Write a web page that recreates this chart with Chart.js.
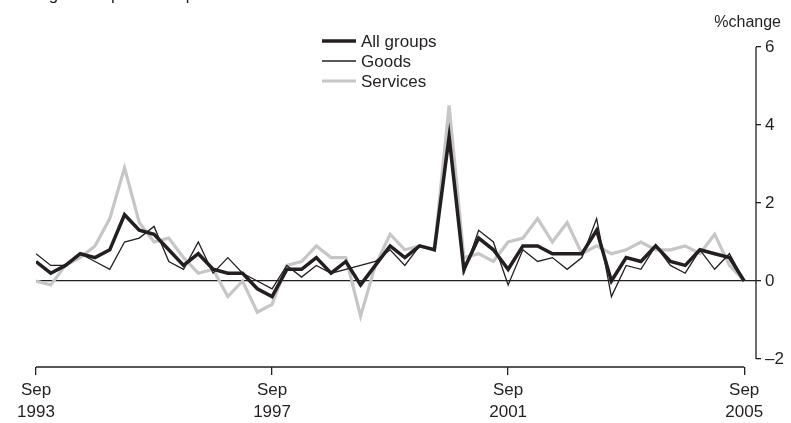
<!DOCTYPE html>
<html>
<head>
<meta charset="utf-8">
<script src="https://cdn.jsdelivr.net/npm/chart.js@4"></script>
<style>
  html, body { margin: 0; padding: 0; background: #fff; }
  #wrap { width: 791px; height: 423px; position: relative; }
</style>
</head>
<body>
<div id="wrap"><canvas id="chart"></canvas></div>
<script>
// quarters, Sep 1993 .. Sep 2005
const quarters = [
  "Sep 1993","Dec 1993","Mar 1994","Jun 1994","Sep 1994","Dec 1994","Mar 1995","Jun 1995",
  "Sep 1995","Dec 1995","Mar 1996","Jun 1996","Sep 1996","Dec 1996","Mar 1997","Jun 1997",
  "Sep 1997","Dec 1997","Mar 1998","Jun 1998","Sep 1998","Dec 1998","Mar 1999","Jun 1999",
  "Sep 1999","Dec 1999","Mar 2000","Jun 2000","Sep 2000","Dec 2000","Mar 2001","Jun 2001",
  "Sep 2001","Dec 2001","Mar 2002","Jun 2002","Sep 2002","Dec 2002","Mar 2003","Jun 2003",
  "Sep 2003","Dec 2003","Mar 2004","Jun 2004","Sep 2004","Dec 2004","Mar 2005","Jun 2005",
  "Sep 2005"
];

const allGroups = [
  0.5, 0.2, 0.4, 0.7, 0.6, 0.8, 1.7, 1.3, 1.2, 0.8, 0.4, 0.7, 0.3, 0.2, 0.2, -0.2,
  -0.4, 0.3, 0.3, 0.6, 0.2, 0.5, -0.1, 0.4, 0.9, 0.6, 0.9, 0.8, 3.7, 0.3, 1.1, 0.8,
  0.3, 0.9, 0.9, 0.7, 0.7, 0.7, 1.3, 0.0, 0.6, 0.5, 0.9, 0.5, 0.4, 0.8, 0.7, 0.6,
  0.0
];
const goods = [
  0.7, 0.4, 0.4, 0.7, 0.5, 0.3, 1.0, 1.1, 1.4, 0.5, 0.3, 1.0, 0.2, 0.6, 0.2, 0.0,
  -0.2, 0.4, 0.1, 0.4, 0.2, 0.3, 0.4, 0.5, 0.8, 0.4, 0.9, 0.8, 3.6, 0.2, 1.3, 1.0,
  -0.1, 0.8, 0.5, 0.6, 0.3, 0.6, 1.6, -0.4, 0.4, 0.3, 0.9, 0.4, 0.2, 0.8, 0.3, 0.7,
  0.0
];
const services = [
  0.0, -0.1, 0.4, 0.6, 0.9, 1.6, 2.9, 1.5, 1.0, 1.1, 0.6, 0.2, 0.3, -0.4, 0.0, -0.8,
  -0.6, 0.4, 0.5, 0.9, 0.6, 0.6, -0.9, 0.4, 1.2, 0.8, 0.9, 0.8, 4.5, 0.6, 0.7, 0.5,
  1.0, 1.1, 1.6, 1.0, 1.5, 0.7, 0.9, 0.7, 0.8, 1.0, 0.8, 0.8, 0.9, 0.7, 1.2, 0.4,
  0.0
];

const xTickPos = [0, 16, 32, 48];
const yTicks = [-2, 0, 2, 4, 6];

const FONT = "'Liberation Sans', Arial, sans-serif";
const INK = "#231f20";

function pts(arr) {
  return arr.map((v, i) => ({ x: i, y: v }));
}

// axis lines, legend and header texts
const decor = {
  id: "decor",
  afterDraw(chart) {
    const { ctx, chartArea, scales } = chart;
    const x = scales.x, y = scales.y;
    ctx.save();
    ctx.strokeStyle = INK;
    ctx.lineWidth = 1.3;
    ctx.beginPath();
    ctx.moveTo(x.getPixelForValue(0), chartArea.bottom);
    ctx.lineTo(x.getPixelForValue(quarters.length - 1), chartArea.bottom);
    ctx.moveTo(chartArea.right, y.getPixelForValue(6));
    ctx.lineTo(chartArea.right, y.getPixelForValue(-2));
    ctx.stroke();

    // legend
    ctx.font = "17px " + FONT;
    ctx.textBaseline = "middle";
    ctx.fillStyle = INK;
    chart.data.datasets.forEach((ds, i) => {
      const ly = 41 + i * 20;
      ctx.strokeStyle = ds.borderColor;
      ctx.lineWidth = ds.borderWidth;
      ctx.beginPath();
      ctx.moveTo(322, ly);
      ctx.lineTo(356, ly);
      ctx.stroke();
      ctx.fillText(ds.label, 361, ly + 1);
    });

    // unit label and clipped heading
    ctx.font = "16px " + FONT;
    ctx.textBaseline = "alphabetic";
    ctx.textAlign = "right";
    ctx.fillText("%change", 781, 27);
    ctx.textAlign = "left";
    ctx.font = "17px " + FONT;
    ctx.fillText("Change from previous quarter", 8, 0);
    ctx.restore();
  }
};

new Chart(document.getElementById("chart"), {
  type: "line",
  data: {
    datasets: [
      { label: "All groups", data: pts(allGroups), borderColor: INK, borderWidth: 3.5 },
      { label: "Goods", data: pts(goods), borderColor: INK, borderWidth: 1.3 },
      { label: "Services", data: pts(services), borderColor: "#c6c6c6", borderWidth: 3.2 }
    ]
  },
  options: {
    responsive: true,
    maintainAspectRatio: false,
    animation: false,
    layout: { padding: { left: 36, top: 47, right: 0, bottom: 0 } },
    elements: { point: { radius: 0 }, line: { tension: 0 } },
    plugins: { legend: { display: false }, tooltip: { enabled: false } },
    scales: {
      x: {
        type: "linear",
        min: 0,
        max: 48.8,
        afterBuildTicks: s => { s.ticks = xTickPos.map(v => ({ value: v })); },
        afterFit: s => { s.height = 56; },
        border: { display: false },
        grid: { drawOnChartArea: false, tickLength: 8, color: INK, lineWidth: 1.3 },
        ticks: {
          autoSkip: false,
          maxRotation: 0,
          padding: 5,
          color: INK,
          font: { family: FONT, size: 17, lineHeight: 1.25 },
          callback: v => quarters[v].split(" ")
        }
      },
      y: {
        position: "right",
        min: -2.205,
        max: 6,
        afterBuildTicks: s => { s.ticks = yTicks.map(v => ({ value: v })); },
        afterFit: s => { s.width = 35; },
        border: { display: false },
        grid: {
          color: c => (c.tick && c.tick.value === 0 ? INK : "rgba(0,0,0,0)"),
          tickColor: INK,
          lineWidth: 1.3,
          tickLength: 5
        },
        ticks: {
          padding: 4,
          color: INK,
          font: { family: FONT, size: 17 },
          callback: v => (v < 0 ? "\u2013" + Math.abs(v) : String(v))
        }
      }
    }
  },
  plugins: [decor]
});
</script>
</body>
</html>
